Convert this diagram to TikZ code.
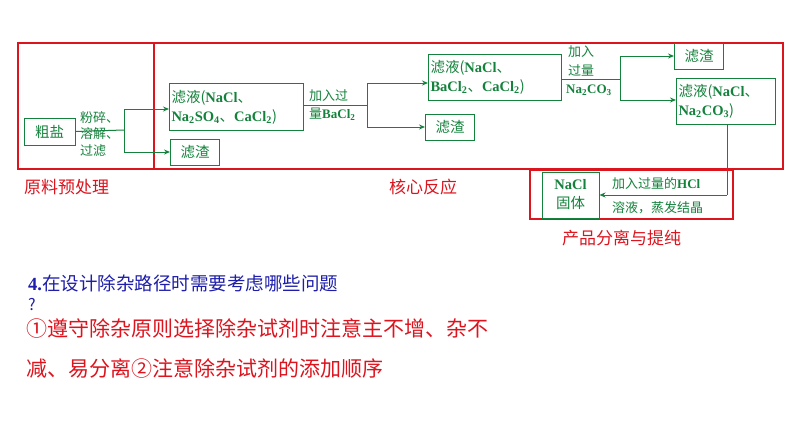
\documentclass[tikz,border=0pt]{standalone}
\usepackage{fontspec}
\setmainfont{Liberation Serif}
\newfontfamily\cjk{Noto Sans CJK SC}
\usetikzlibrary{arrows.meta}
\newcommand{\ce}[1]{{\rmfamily\bfseries #1}}
\definecolor{gr}{RGB}{20,130,60}
\definecolor{rd}{RGB}{220,20,30}
\definecolor{bl}{RGB}{30,30,170}
\tikzset{
 box/.style={draw=gr,line width=1pt,text=gr,font=\cjk\fontsize{14.5}{19}\selectfont,align=left,inner sep=2pt,anchor=north west},
 lab/.style={text=gr,font=\cjk\fontsize{13}{16.5}\selectfont,align=left,inner sep=0pt},
 fl/.style={draw=gr,line width=1pt},
 ar/.style={fl,-{Stealth[length=6pt,width=5pt]}},
 frame/.style={draw=rd,line width=1.2pt},
 rlab/.style={text=rd,font=\cjk\fontsize{17}{19}\selectfont,anchor=west,inner sep=0pt}
}
\begin{document}
\begin{tikzpicture}[x=1pt,y=-1pt]
\useasboundingbox (0,0) rectangle (794,447);
\draw[frame] (18,43) rectangle (154,169);
\draw[frame] (154,43) rectangle (783,169);
\draw[frame,fill=white] (530,170) rectangle (733,219);
\node[rlab] (r1) at (24,187) {原料预处理};
\node[rlab] (r2) at (389,187) {核心反应};
\node[rlab] (r3) at (562,238) {产品分离与提纯};
% boxes
\node[box,minimum width=51pt,minimum height=27pt,align=center,anchor=center] (cy) at (49.5,131.5) {粗盐};
\node[box,text width=130pt,minimum height=47pt] (f1) at (169,83) {滤液(\ce{NaCl}、\\\ce{Na\textsubscript{2}SO\textsubscript{4}}、\ce{CaCl\textsubscript{2}})};
\node[box,minimum width=49pt,minimum height=26pt,anchor=west] (z1) at (170,152) {滤渣};
\node[box,text width=129pt,minimum height=46pt] (f2) at (428,54) {滤液(\ce{NaCl}、\\\ce{BaCl\textsubscript{2}}、\ce{CaCl\textsubscript{2}})};
\node[box,minimum width=49pt,minimum height=26pt,anchor=west] (z2) at (425,127) {滤渣};
\node[box,minimum width=49pt,minimum height=26pt,anchor=west] (z3) at (674,56) {滤渣};
\node[box,text width=95pt,minimum height=46pt] (f3) at (676,78) {滤液(\ce{NaCl}、\\\ce{Na\textsubscript{2}CO\textsubscript{3}})};
\node[box,minimum width=57pt,minimum height=46pt,align=center,anchor=center] (nc) at (570.5,195) {\ce{NaCl}\\固体};
% connectors
\coordinate (j1) at (124,130);
\draw[fl] (cy.east) -- (j1);
\draw[ar] (j1) |- (f1.west|-0,109);
\draw[ar] (j1) |- (z1.west);
\node[lab,anchor=north west] (l1) at (80,111) {粉碎、\\溶解、\\过滤};
\coordinate (j2) at (367,105);
\draw[fl] (f1.east|-j2) -- (j2);
\draw[ar] (j2) |- (f2.west|-0,83);
\draw[ar] (j2) |- (z2.west);
\node[lab,anchor=west] (l2) at (309,96) {加入过};
\node[lab,anchor=west] (l3) at (309,114) {量\ce{BaCl\textsubscript{2}}};
\coordinate (j3) at (620,79);
\draw[fl] (f2.east|-j3) -- (j3);
\draw[ar] (j3) |- (z3.west);
\draw[ar] (j3) |- (f3.west|-0,100);
\node[lab,anchor=west] (l4) at (568,52) {加入};
\node[lab,anchor=west] (l5) at (568,70) {过量};
\node[lab,anchor=west] (l6) at (566,90) {\ce{Na\textsubscript{2}CO\textsubscript{3}}};
\coordinate (j4) at (727,195);
\draw[fl] (f3.south-|j4) -- (j4);
\draw[ar] (j4) -- (nc.east|-j4);
\node[lab,anchor=west] (l7) at (612,184) {加入过量的\ce{HCl}};
\node[lab,anchor=west] (l8) at (612,208) {溶液，蒸发结晶};
% bottom text
\node[anchor=west,inner sep=0pt,text=bl,font=\cjk\fontsize{18.5}{20}\selectfont] (q1) at (28,283) {\ce{4.}在设计除杂路径时需要考虑哪些问题};
\node[anchor=west,inner sep=0pt,text=bl,font=\cjk\fontsize{16}{18}\selectfont] (q2) at (28,305) {?};
\node[anchor=west,inner sep=0pt,text=rd,font=\cjk\fontsize{21}{22}\selectfont] (a1) at (26,328) {①遵守除杂原则选择除杂试剂时注意主不增、杂不};
\node[anchor=west,inner sep=0pt,text=rd,font=\cjk\fontsize{21}{22}\selectfont] (a2) at (26,368) {减、易分离②注意除杂试剂的添加顺序};
\end{tikzpicture}
\end{document}
